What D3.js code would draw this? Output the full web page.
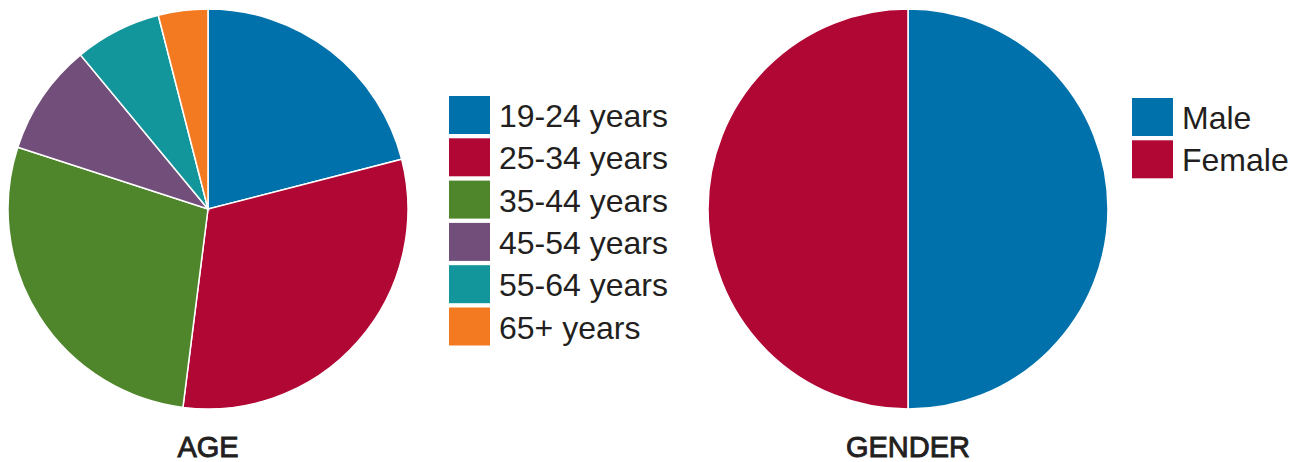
<!DOCTYPE html>
<html>
<head>
<meta charset="utf-8">
<script src="https://cdn.jsdelivr.net/npm/d3@7"></script>
<style>
  body { margin: 0; background: #fff; }
  text { font-family: "Liberation Sans", Arial, Helvetica, sans-serif; fill: #231f20; }
</style>
</head>
<body>
<script>
// age breakdown (percent)
var ageLabels = ["19-24 years", "25-34 years", "35-44 years", "45-54 years", "55-64 years", "65+ years"]
var ageValues = [21, 31, 28, 9, 7, 4]
var ageColors = ["#0071aa", "#b10735", "#50862b", "#724f7a", "#13969b", "#f47a21"]

// gender breakdown (percent)
var genderLabels = ["Male", "Female"]
var genderValues = [50, 50]
var genderColors = ["#0071aa", "#b10735"]

var width = 1293
var height = 462
var radius = 200

var svg = d3.select("body")
    .append("svg")
    .attr("width", width)
    .attr("height", height)

function drawPie(cx, cy, labels, values, colors, title, legendX, legendY) {
    var pie = d3.pie().sort(null)
    var arc = d3.arc().innerRadius(0).outerRadius(radius)
    var color = d3.scaleOrdinal().domain(labels).range(colors)

    var g = svg.append("g").attr("transform", "translate(" + cx + "," + cy + ")")

    g.selectAll("path")
        .data(pie(values))
        .enter()
        .append("path")
        .attr("d", arc)
        .attr("fill", (d, i) => color(labels[i]))
        .attr("stroke", "#fff")
        .attr("stroke-width", 1.5)

    //title under the pie (medium weight look)
    svg.append("text")
        .attr("x", cx)
        .attr("y", cy + radius + 48)
        .attr("text-anchor", "middle")
        .attr("font-size", 29)
        .attr("stroke", "#231f20")
        .attr("stroke-width", 0.9)
        .text(title)

    //legend
    var leg = svg.append("g").attr("transform", "translate(" + legendX + "," + legendY + ")")
    var item = leg.selectAll("g")
        .data(labels)
        .enter()
        .append("g")
        .attr("transform", (d, i) => "translate(0," + i * 42.3 + ")")

    item.append("rect")
        .attr("width", 41)
        .attr("height", 38)
        .attr("fill", d => color(d))

    item.append("text")
        .attr("x", 50)
        .attr("y", 31)
        .attr("font-size", 32)
        .text(d => d)
}

drawPie(208, 209, ageLabels, ageValues, ageColors, "AGE", 449, 96)
drawPie(908, 209, genderLabels, genderValues, genderColors, "GENDER", 1132, 98)
</script>
</body>
</html>
